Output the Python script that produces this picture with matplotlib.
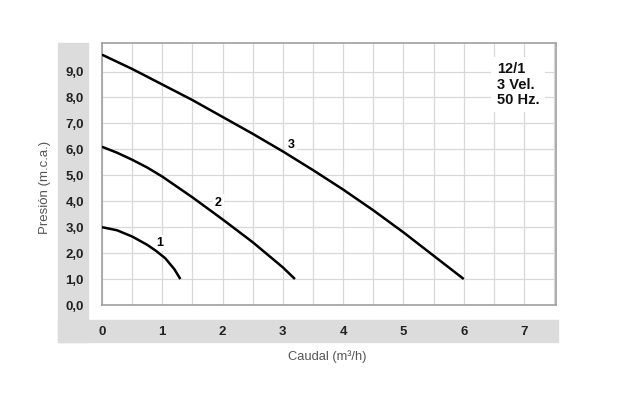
import matplotlib
matplotlib.use("Agg")
import matplotlib.pyplot as plt
from matplotlib.patches import Rectangle

plt.rcParams['font.family'] = ['Liberation Sans', 'DejaVu Sans']

# curves (caudal m3/h, presion m.c.a.)
x1 = [0, 0.25, 0.5, 0.75, 0.9, 1.05, 1.2, 1.3]
y1 = [3.0, 2.88, 2.64, 2.32, 2.08, 1.8, 1.38, 1.0]
x2 = [0, 0.25, 0.5, 0.75, 1.0, 1.5, 2.0, 2.5, 3.0, 3.2]
y2 = [6.1, 5.87, 5.6, 5.3, 4.95, 4.15, 3.3, 2.42, 1.45, 1.0]
x3 = [0, 0.5, 1.0, 1.5, 2.0, 2.5, 3.0, 3.5, 4.0, 4.5, 5.0, 5.5, 6.0]
y3 = [9.65, 9.1, 8.5, 7.9, 7.25, 6.6, 5.92, 5.2, 4.45, 3.65, 2.8, 1.9, 1.0]

curve_labels = ["1", "2", "3"]
label_pos = [(0.95, 2.38), (1.93, 3.95), (3.14, 6.15)]

xticks = [0, 1, 2, 3, 4, 5, 6, 7]
yticks = [0, 1, 2, 3, 4, 5, 6, 7, 8, 9]
ytick_labels = ["0,0", "1,0", "2,0", "3,0", "4,0", "5,0", "6,0", "7,0", "8,0", "9,0"]
info = "12/1\n3 Vel.\n50 Hz."

W, H = 637, 399
fig = plt.figure(figsize=(W / 100, H / 100), dpi=100)

# gray L-shaped frame behind the axes
gray = "#dcdcdc"
fig.patches.append(Rectangle((58 / W, 1 - 342 / H), 30 / W, 299 / H,
                             transform=fig.transFigure, color=gray, zorder=-5))
fig.patches.append(Rectangle((58 / W, 1 - 342 / H), 500 / W, 22 / H,
                             transform=fig.transFigure, color=gray, zorder=-5))

ax = fig.add_axes([102 / W, 1 - 305 / H, 454 / W, 262 / H])
ax.set_xlim(0, 7.53)
ax.set_ylim(0, 10.1)

ax.set_xticks(xticks)
ax.set_xticks([v + 0.5 for v in xticks], minor=True)
ax.set_yticks(yticks)
ax.set_yticklabels(ytick_labels)
ax.grid(True, which="both", color="#d8d8d8", linewidth=0.9)
ax.set_axisbelow(True)
ax.tick_params(which="both", length=0)
ax.tick_params(axis="y", pad=13, labelsize=9.5)
ax.tick_params(axis="x", pad=15, labelsize=9.5)
for lab in ax.get_xticklabels() + ax.get_yticklabels():
    lab.set_fontweight("bold")
    lab.set_color("#222222")
for s in ax.spines.values():
    s.set_color("#a0a0a0")
    s.set_linewidth(1.2)

for xs, ys in [(x1, y1), (x2, y2), (x3, y3)]:
    ax.plot(xs, ys, color="black", linewidth=1.8, solid_capstyle="butt", zorder=3)

for lab, (lx, ly) in zip(curve_labels, label_pos):
    ax.text(lx, ly, lab, ha="center", va="center", fontsize=9, fontweight="bold",
            zorder=2.5, bbox=dict(facecolor="white", edgecolor="none", pad=1.5))

ax.text(6.55, 9.35, info, ha="left", va="top", fontsize=10.5, fontweight="bold",
        linespacing=1.1, color="#111111", multialignment="left",
        bbox=dict(facecolor="white", edgecolor="none", pad=4))

fig.text(45 / W, 1 - 187 / H, "Presión (m.c.a.)", rotation=90, ha="center", va="center",
         fontsize=9.5, color="#555555")
fig.text(327 / W, 1 - 357 / H, "Caudal (m³/h)", ha="center", va="center",
         fontsize=9.3, color="#555555")

fig.savefig("out.png", dpi=100)
